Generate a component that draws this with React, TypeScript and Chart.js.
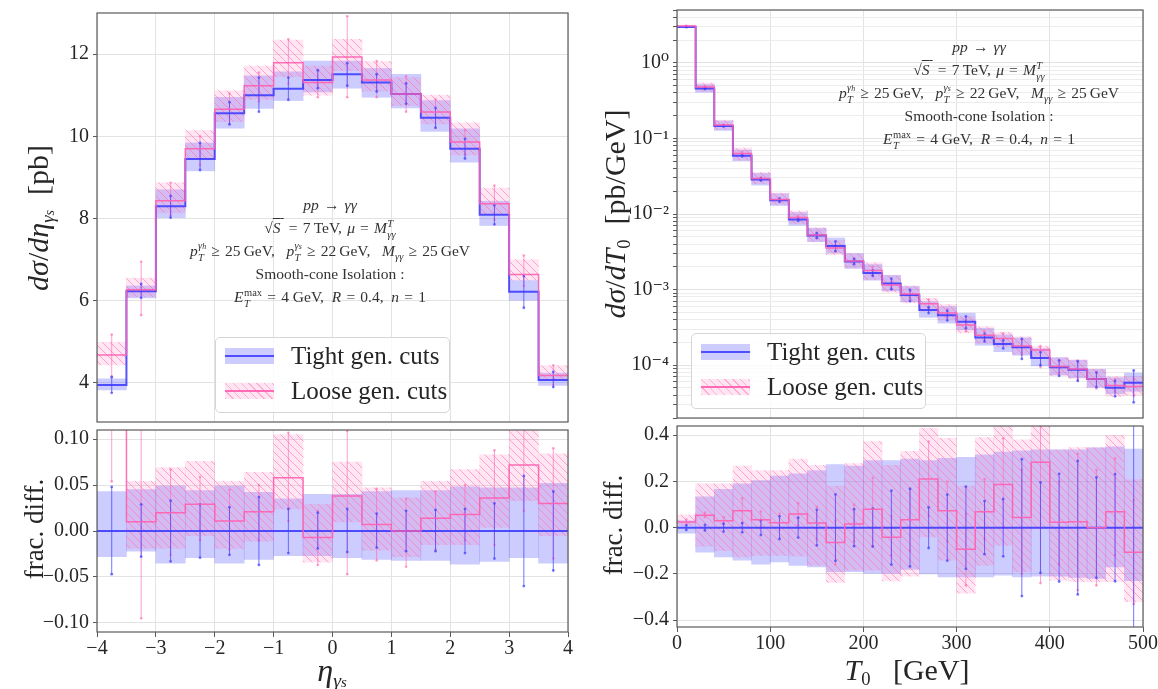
import React, { useEffect, useRef } from 'react';
import { Chart, registerables } from 'chart.js';

Chart.register(...registerables);

// ================= DATA =================
// Left: d sigma / d eta_gamma_s  (16 bins of 0.5 from -4 to 4)
const etaEdges = [-4, -3.5, -3, -2.5, -2, -1.5, -1, -0.5, 0, 0.5, 1, 1.5, 2, 2.5, 3, 3.5, 4];
const etaTight = [3.95, 6.23, 8.30, 9.45, 10.56, 11.00, 11.16, 11.37, 11.51, 11.31, 11.03, 10.45, 9.70, 8.09, 6.22, 4.07];
const etaTightLo = [3.83, 6.07, 8.02, 9.16, 10.20, 10.68, 10.87, 11.08, 11.17, 10.95, 10.69, 10.12, 9.37, 7.83, 6.01, 3.94];
const etaTightHi = [4.10, 6.36, 8.70, 9.84, 10.95, 11.47, 11.57, 11.83, 11.83, 11.65, 11.51, 10.87, 10.18, 8.42, 6.49, 4.24];
const etaTightErrLo = [3.76, 6.07, 8.02, 9.18, 10.29, 10.60, 10.89, 11.17, 11.23, 11.09, 10.79, 10.21, 9.46, 7.86, 5.83, 3.90];
const etaTightErrHi = [4.14, 6.41, 8.55, 9.84, 10.83, 11.43, 11.43, 11.61, 11.78, 11.51, 11.29, 10.69, 9.94, 8.32, 6.60, 4.27];
const etaLoose = [4.68, 6.27, 8.43, 9.70, 10.66, 11.23, 11.79, 11.31, 11.93, 11.37, 11.03, 10.59, 9.86, 8.36, 6.64, 4.18];
const etaLooseLo = [4.44, 6.10, 8.14, 9.45, 10.36, 10.90, 11.45, 11.00, 11.60, 11.10, 10.75, 10.30, 9.55, 8.10, 6.50, 4.08];
const etaLooseHi = [4.99, 6.55, 8.87, 10.14, 11.11, 11.71, 12.34, 11.71, 12.36, 11.82, 11.43, 11.00, 10.33, 8.74, 7.00, 4.42];
const etaLooseErrLo = [4.16, 5.65, 8.08, 9.30, 10.30, 10.85, 11.28, 10.95, 10.95, 10.95, 10.60, 10.20, 9.55, 7.97, 6.36, 3.95];
const etaLooseErrHi = [5.18, 6.95, 8.87, 10.00, 11.04, 11.55, 12.36, 11.60, 12.92, 11.83, 11.46, 10.90, 10.15, 8.80, 7.10, 4.43];

// Left ratio panel (frac. diff.)
const etaRatioTight = [0, 0, 0, 0, 0, 0, 0, 0, 0, 0, 0, 0, 0, 0, 0, 0];
const etaRatioTightLo = [-0.028, -0.022, -0.035, -0.029, -0.035, -0.031, -0.027, -0.027, -0.029, -0.031, -0.032, -0.032, -0.036, -0.033, -0.029, -0.035];
const etaRatioTightHi = [0.043, 0.045, 0.049, 0.044, 0.049, 0.042, 0.035, 0.040, 0.040, 0.043, 0.044, 0.044, 0.048, 0.047, 0.047, 0.052];
const etaRatioTightErrLo = [-0.047, -0.028, -0.033, -0.029, -0.026, -0.037, -0.024, -0.019, -0.023, -0.018, -0.022, -0.022, -0.024, -0.030, -0.060, -0.043];
const etaRatioTightErrHi = [0.048, 0.029, 0.033, 0.029, 0.026, 0.037, 0.024, 0.020, 0.024, 0.019, 0.022, 0.023, 0.024, 0.030, 0.060, 0.043];
const etaRatioLoose = [0.18, 0.010, 0.020, 0.029, 0.011, 0.021, 0.058, -0.007, 0.038, 0.007, 0.0, 0.014, 0.018, 0.036, 0.072, 0.030];
const etaRatioLooseLo = [0.12, -0.019, -0.019, -0.005, -0.019, -0.011, 0.024, -0.034, 0.010, -0.021, -0.028, -0.015, -0.015, 0.004, 0.033, -0.005];
const etaRatioLooseHi = [0.26, 0.054, 0.069, 0.076, 0.054, 0.064, 0.105, 0.029, 0.075, 0.047, 0.036, 0.054, 0.067, 0.083, 0.12, 0.084];
const etaRatioLooseErrLo = [0.054, -0.095, -0.026, -0.010, -0.020, -0.010, 0.011, -0.037, -0.047, -0.032, -0.039, -0.020, -0.010, -0.015, 0.022, -0.030];
const etaRatioLooseErrHi = [0.31, 0.14, 0.067, 0.059, 0.045, 0.050, 0.107, 0.022, 0.109, 0.046, 0.035, 0.043, 0.050, 0.088, 0.13, 0.090];

// Right: d sigma / d T0  (25 bins of 20 GeV from 0 to 500)
const tauEdges = [0, 20, 40, 60, 80, 100, 120, 140, 160, 180, 200, 220, 240, 260, 280, 300, 320, 340, 360, 380, 400, 420, 440, 460, 480, 500];
const tauTight = [2.99, 0.456, 0.146, 0.059, 0.0286, 0.0152, 0.00847, 0.00518, 0.00378, 0.00236, 0.00166, 0.00120, 0.000845, 0.000537, 0.000457, 0.000374, 0.000233, 0.000190, 0.000172, 0.000124, 0.0000940, 0.0000870, 0.0000655, 0.0000504, 0.0000586];

// Right ratio panel (frac. diff. w.r.t. tight central value)
const tauRatioTight = [0, 0, 0, 0, 0, 0, 0, 0, 0, 0, 0, 0, 0, 0, 0, 0, 0, 0, 0, 0, 0, 0, 0, 0, 0];
const tauRatioTightLo = [-0.024, -0.106, -0.127, -0.141, -0.158, -0.148, -0.163, -0.170, -0.190, -0.190, -0.198, -0.198, -0.181, -0.200, -0.213, -0.213, -0.213, -0.206, -0.213, -0.210, -0.210, -0.215, -0.220, -0.170, -0.230];
const tauRatioTightHi = [0.030, 0.133, 0.166, 0.190, 0.204, 0.223, 0.233, 0.247, 0.273, 0.266, 0.290, 0.290, 0.297, 0.290, 0.300, 0.304, 0.315, 0.327, 0.333, 0.337, 0.337, 0.337, 0.345, 0.350, 0.340];
const tauRatioTightErrLo = [-0.010, -0.012, -0.017, -0.020, -0.032, -0.049, -0.043, -0.077, -0.144, -0.080, -0.082, -0.160, -0.168, -0.088, -0.143, -0.178, -0.115, -0.124, -0.296, -0.196, -0.233, -0.289, -0.217, -0.232, -0.450];
const tauRatioTightErrHi = [0.010, 0.012, 0.017, 0.020, 0.032, 0.049, 0.043, 0.077, 0.144, 0.080, 0.082, 0.160, 0.168, 0.088, 0.143, 0.178, 0.115, 0.124, 0.296, 0.196, 0.233, 0.289, 0.217, 0.232, 0.450];
const tauRatioLoose = [0.025, 0.054, 0.030, 0.073, 0.034, 0.021, 0.059, 0.020, -0.064, 0.016, 0.080, -0.041, 0.034, 0.211, 0.073, -0.094, 0.069, 0.187, 0.044, 0.283, 0.023, 0.026, 0.000, 0.069, -0.106];
const tauRatioLooseLo = [0.010, -0.080, -0.100, -0.127, -0.120, -0.120, -0.123, -0.163, -0.237, -0.184, -0.184, -0.231, -0.210, -0.040, -0.141, -0.284, -0.163, -0.077, -0.190, -0.006, -0.227, -0.234, -0.234, -0.234, -0.320];
const tauRatioLooseHi = [0.055, 0.190, 0.190, 0.266, 0.247, 0.247, 0.297, 0.270, 0.180, 0.277, 0.373, 0.270, 0.330, 0.430, 0.387, 0.180, 0.390, 0.437, 0.380, 0.437, 0.337, 0.347, 0.347, 0.400, 0.208];
const tauRatioLooseErrLo = [0.015, 0.045, 0.015, 0.020, 0.000, -0.010, 0.010, -0.050, -0.160, -0.060, -0.080, -0.120, -0.100, 0.050, -0.060, -0.250, -0.050, 0.000, -0.200, -0.240, -0.160, -0.270, -0.250, -0.120, -0.330];
const tauRatioLooseErrHi = [0.035, 0.065, 0.045, 0.127, 0.070, 0.060, 0.106, 0.090, 0.030, 0.100, 0.216, 0.050, 0.170, 0.373, 0.200, 0.060, 0.210, 0.387, 0.250, 0.440, 0.200, 0.320, 0.250, 0.300, 0.120];

// Tick labels
const etaTicksX = [-4, -3, -2, -1, 0, 1, 2, 3, 4];
const etaTicksY = [4, 6, 8, 10, 12];
const etaRatioTicksY = [-0.1, -0.05, 0, 0.05, 0.1];
const tauTicksX = [0, 100, 200, 300, 400, 500];
const tauMajorTicks = [1e-4, 1e-3, 1e-2, 1e-1, 1];
const tauMajorLabels = ['10⁻⁴', '10⁻³', '10⁻²', '10⁻¹', '10⁰'];
const tauRatioTicksY = [-0.4, -0.2, 0, 0.2, 0.4];
const legendLabels = ['Tight gen. cuts', 'Loose gen. cuts'];

// ================= STYLE =================
const SERIF = "'Liberation Serif', 'DejaVu Serif', serif";
const TEXT = '#262626';
const GRID = '#e3e3e3';
const GRID_MINOR = '#ececec';
const FRAME = '#5a5a5a';
const BLUE_BAND = 'rgba(85,85,255,0.30)';
const BLUE_LINE = 'rgba(55,55,255,0.85)';
const BLUE_ERR = 'rgba(70,70,255,0.75)';
const PINK_BG = 'rgba(255,105,180,0.17)';
const PINK_HATCH = 'rgba(255,105,180,0.55)';
const PINK_LINE = 'rgba(255,95,175,0.9)';
const PINK_ERR = 'rgba(255,105,180,0.65)';
const TICK_FONT = { family: SERIF, size: 20 };

type Hist = { c: number[]; lo: number[]; hi: number[]; eLo: number[]; eHi: number[] };

function centersOf(edges: number[]) {
  return edges.slice(0, -1).map((e, i) => (e + edges[i + 1]) / 2);
}
function stepData(edges: number[], v: number[]) {
  return edges.map((e, i) => ({ x: e, y: v[Math.min(i, v.length - 1)] }));
}
function bandData(edges: number[], lo: number[], hi: number[]) {
  return centersOf(edges).map((x, i) => ({ x, y: [lo[i], hi[i]] }));
}
function errData(edges: number[], lo: number[], hi: number[]) {
  const out: any[] = [];
  centersOf(edges).forEach((x, i) => {
    out.push({ x, y: lo[i] }, { x, y: hi[i] }, { x, y: null });
  });
  return out;
}

function makeHatch(): any {
  const c = document.createElement('canvas');
  c.width = 8;
  c.height = 8;
  const g = c.getContext('2d');
  if (!g) return PINK_BG;
  g.fillStyle = PINK_BG;
  g.fillRect(0, 0, 8, 8);
  g.strokeStyle = PINK_HATCH;
  g.lineWidth = 1;
  g.beginPath();
  g.moveTo(-1, -1); g.lineTo(9, 9);
  g.moveTo(-1, 7); g.lineTo(1, 9);
  g.moveTo(7, -1); g.lineTo(9, 1);
  g.stroke();
  return g.createPattern(c, 'repeat') || PINK_BG;
}

function histSets(edges: number[], t: Hist, l: Hist, hatch: any) {
  return [
    { type: 'bar', data: bandData(edges, t.lo, t.hi), backgroundColor: BLUE_BAND, borderWidth: 0, grouped: false, barPercentage: 1, categoryPercentage: 1, order: 10 },
    { type: 'bar', data: bandData(edges, l.lo, l.hi), backgroundColor: hatch, borderWidth: 0, grouped: false, barPercentage: 1, categoryPercentage: 1, order: 9 },
    { type: 'line', data: errData(edges, l.eLo, l.eHi), borderColor: PINK_ERR, borderWidth: 1, pointRadius: 1.3, pointBorderWidth: 0, pointBackgroundColor: PINK_ERR, spanGaps: false, order: 8 },
    { type: 'line', data: errData(edges, t.eLo, t.eHi), borderColor: BLUE_ERR, borderWidth: 1, pointRadius: 1.4, pointBorderWidth: 0, pointBackgroundColor: BLUE_ERR, spanGaps: false, order: 7 },
    { type: 'line', data: stepData(edges, t.c), stepped: 'before', borderColor: BLUE_LINE, borderWidth: 2, pointRadius: 0, order: 6 },
    { type: 'line', data: stepData(edges, l.c), stepped: 'before', borderColor: PINK_LINE, borderWidth: 1.5, pointRadius: 0, order: 5 },
  ];
}

const framePlugin = {
  id: 'frame',
  afterDraw(chart: any) {
    const { ctx, chartArea: a } = chart;
    ctx.save();
    ctx.strokeStyle = FRAME;
    ctx.lineWidth = 1.2;
    ctx.strokeRect(a.left, a.top, a.right - a.left, a.bottom - a.top);
    ctx.restore();
  },
};

const minus = (s: string) => s.replace('-', '\u2212');

function xScale(min: number, max: number, ticks: number[], showLabels: boolean, height: number, fmt: (v: number) => string) {
  return {
    type: 'linear',
    min,
    max,
    offset: false,
    afterBuildTicks: (s: any) => { s.ticks = ticks.map((v) => ({ value: v })); },
    afterFit: (s: any) => { s.height = height; s.paddingLeft = 0; s.paddingRight = 0; },
    grid: { color: GRID, lineWidth: 1, offset: false, drawTicks: showLabels, tickLength: 5, tickColor: FRAME },
    border: { display: false },
    ticks: { display: showLabels, font: TICK_FONT, color: TEXT, padding: 0, maxRotation: 0, autoSkip: false, callback: (v: any) => fmt(Number(v)) },
  };
}

function yLinear(min: number, max: number, ticks: number[], fmt: (v: number) => string) {
  return {
    type: 'linear',
    min,
    max,
    afterBuildTicks: (s: any) => { s.ticks = ticks.map((v) => ({ value: v })); },
    afterFit: (s: any) => { s.width = 97; s.paddingTop = 0; s.paddingBottom = 0; },
    grid: { color: GRID, lineWidth: 1, drawTicks: true, tickLength: 4, tickColor: FRAME },
    border: { display: false },
    ticks: { font: TICK_FONT, color: TEXT, padding: 4, autoSkip: false, callback: (v: any) => fmt(Number(v)) },
  };
}

function yLog(min: number, max: number) {
  const grid: any[] = [];
  for (let k = -6; k <= 1; k++) {
    for (let m = 1; m <= 9; m++) {
      const v = m * Math.pow(10, k);
      if (v >= min && v <= max) {
        const mi = tauMajorTicks.findIndex((t) => Math.abs(t - v) / t < 1e-9);
        grid.push({ value: v, major: mi >= 0, lab: mi >= 0 ? tauMajorLabels[mi] : '' });
      }
    }
  }
  return {
    type: 'logarithmic',
    min,
    max,
    afterBuildTicks: (s: any) => { s.ticks = grid.map((g) => ({ ...g })); },
    afterFit: (s: any) => { s.width = 97; s.paddingTop = 0; s.paddingBottom = 0; },
    grid: {
      color: (ctx: any) => (ctx.tick && ctx.tick.major ? GRID : GRID_MINOR),
      lineWidth: 1,
      drawTicks: true,
      tickLength: 4,
      tickColor: FRAME,
    },
    border: { display: false },
    ticks: {
      font: TICK_FONT,
      color: TEXT,
      padding: 4,
      autoSkip: false,
      callback: (_v: any, i: number) => (grid[i] ? grid[i].lab : ''),
    },
  };
}

function baseConfig(datasets: any[], x: any, y: any, padding: any) {
  return {
    type: 'bar',
    data: { datasets },
    options: {
      responsive: false,
      animation: false,
      events: [],
      layout: { padding },
      plugins: { legend: { display: false }, tooltip: { enabled: false } },
      scales: { x, y },
    },
    plugins: [framePlugin],
  };
}

const fmtInt = (v: number) => minus(String(v));
const fmt2 = (v: number) => minus(v.toFixed(2));
const fmt1 = (v: number) => minus(v.toFixed(1));

function leftTopConfig() {
  const hatch = makeHatch();
  const ds = histSets(
    etaEdges,
    { c: etaTight, lo: etaTightLo, hi: etaTightHi, eLo: etaTightErrLo, eHi: etaTightErrHi },
    { c: etaLoose, lo: etaLooseLo, hi: etaLooseHi, eLo: etaLooseErrLo, eHi: etaLooseErrHi },
    hatch
  );
  return baseConfig(ds, xScale(-4, 4, etaTicksX, false, 0, fmtInt), yLinear(3.05, 13, etaTicksY, fmtInt), { top: 13, right: 12, bottom: 2, left: 0 });
}

function leftBottomConfig() {
  const hatch = makeHatch();
  const ds = histSets(
    etaEdges,
    { c: etaRatioTight, lo: etaRatioTightLo, hi: etaRatioTightHi, eLo: etaRatioTightErrLo, eHi: etaRatioTightErrHi },
    { c: etaRatioLoose, lo: etaRatioLooseLo, hi: etaRatioLooseHi, eLo: etaRatioLooseErrLo, eHi: etaRatioLooseErrHi },
    hatch
  );
  return baseConfig(ds, xScale(-4, 4, etaTicksX, true, 57, fmtInt), yLinear(-0.11, 0.11, etaRatioTicksY, fmt2), { top: 1, right: 12, bottom: 0, left: 0 });
}

function rightTopConfig() {
  const hatch = makeHatch();
  const scale = (r: number[]) => tauTight.map((v, i) => v * (1 + r[i]));
  const ds = histSets(
    tauEdges,
    { c: tauTight, lo: scale(tauRatioTightLo), hi: scale(tauRatioTightHi), eLo: scale(tauRatioTightErrLo), eHi: scale(tauRatioTightErrHi) },
    { c: scale(tauRatioLoose), lo: scale(tauRatioLooseLo), hi: scale(tauRatioLooseHi), eLo: scale(tauRatioLooseErrLo), eHi: scale(tauRatioLooseErrHi) },
    hatch
  );
  return baseConfig(ds, xScale(0, 500, tauTicksX, false, 0, fmtInt), yLog(2e-5, 5), { top: 10, right: 15, bottom: 3, left: 0 });
}

function rightBottomConfig() {
  const hatch = makeHatch();
  const ds = histSets(
    tauEdges,
    { c: tauRatioTight, lo: tauRatioTightLo, hi: tauRatioTightHi, eLo: tauRatioTightErrLo, eHi: tauRatioTightErrHi },
    { c: tauRatioLoose, lo: tauRatioLooseLo, hi: tauRatioLooseHi, eLo: tauRatioLooseErrLo, eHi: tauRatioLooseErrHi },
    hatch
  );
  return baseConfig(ds, xScale(0, 500, tauTicksX, true, 62, fmtInt), yLinear(-0.43, 0.44, tauRatioTicksY, fmt1), { top: 2, right: 15, bottom: 0, left: 0 });
}

function ChartBox({ left, top, width, height, build }: { left: number; top: number; width: number; height: number; build: () => any }) {
  const ref = useRef<HTMLCanvasElement>(null);
  useEffect(() => {
    if (!ref.current) return;
    const chart = new Chart(ref.current, build());
    return () => chart.destroy();
  }, []);
  return <canvas ref={ref} width={width} height={height} style={{ position: 'absolute', left, top, width, height }} />;
}

function SupSub({ sup, sub }: { sup: React.ReactNode; sub: React.ReactNode }) {
  return (
    <span style={{ display: 'inline-block', verticalAlign: '-0.45em', fontSize: '0.68em', lineHeight: '1.05em', textAlign: 'left', marginLeft: '0.04em' }}>
      <span style={{ display: 'block' }}>{sup}</span>
      <span style={{ display: 'block' }}>{sub}</span>
    </span>
  );
}

const SP = '\u2004';

function Annotation({ cx, top }: { cx: number; top: number }) {
  const line: React.CSSProperties = { height: 23, lineHeight: '23px', whiteSpace: 'nowrap' };
  return (
    <div style={{ position: 'absolute', left: cx - 200, top, width: 400, textAlign: 'center', fontFamily: SERIF, fontSize: 15.5, color: '#333' }}>
      <div style={line}><i>pp</i>{SP}→{SP}<i>γγ</i></div>
      <div style={line}>
        √<span style={{ textDecoration: 'overline' }}><i>S</i>&thinsp;</span>{SP}={SP}7{'\u2009'}TeV,{SP}<i>μ</i>{SP}={SP}<i>M</i>
        <SupSub sup={<i>T</i>} sub={<i>γγ</i>} />
      </div>
      <div style={line}>
        <i>p</i><SupSub sup={<i>γ<span style={{ fontSize: '0.75em' }}>h</span></i>} sub={<i>T</i>} />{SP}≥{SP}25{'\u2009'}GeV,&nbsp;&nbsp;{' '}
        <i>p</i><SupSub sup={<i>γ<span style={{ fontSize: '0.75em' }}>s</span></i>} sub={<i>T</i>} />{SP}≥{SP}22{'\u2009'}GeV,&nbsp;&nbsp;{' '}
        <i>M</i><span style={{ fontSize: '0.68em', verticalAlign: '-0.35em' }}><i>γγ</i></span>{SP}≥{SP}25{'\u2009'}GeV
      </div>
      <div style={line}>Smooth-cone Isolation :</div>
      <div style={line}>
        <i>E</i><SupSub sup="max" sub={<i>T</i>} />{SP}={SP}4 GeV,&nbsp; <i>R</i>{SP}={SP}0.4,&nbsp; <i>n</i>{SP}={SP}1
      </div>
    </div>
  );
}

function Legend({ left, top }: { left: number; top: number }) {
  const handle: React.CSSProperties = { position: 'absolute', left: 9, width: 49, height: 16 };
  const text: React.CSSProperties = { position: 'absolute', left: 75, height: 30, lineHeight: '30px', whiteSpace: 'nowrap' };
  const hatchCss = `repeating-linear-gradient(45deg, ${PINK_HATCH} 0px, ${PINK_HATCH} 1px, ${PINK_BG} 1px, ${PINK_BG} 5.5px)`;
  return (
    <div style={{ position: 'absolute', left, top, width: 235, height: 76, boxSizing: 'border-box', border: '1px solid #d6d6d6', borderRadius: 5, background: 'rgba(255,255,255,0.82)', fontFamily: SERIF, fontSize: 25, color: TEXT }}>
      <div style={{ ...handle, top: 10, background: BLUE_BAND }}>
        <div style={{ position: 'absolute', left: 0, right: 0, top: 7, height: 2, background: BLUE_LINE }} />
      </div>
      <div style={{ ...text, top: 3 }}>{legendLabels[0]}</div>
      <div style={{ ...handle, top: 45, background: hatchCss }}>
        <div style={{ position: 'absolute', left: 0, right: 0, top: 7, height: 1.5, background: PINK_LINE }} />
      </div>
      <div style={{ ...text, top: 38 }}>{legendLabels[1]}</div>
    </div>
  );
}

function Rot({ cx, cy, size, children }: { cx: number; cy: number; size: number; children: React.ReactNode }) {
  return (
    <div style={{ position: 'absolute', left: cx, top: cy, transform: 'translate(-50%,-50%) rotate(-90deg)', whiteSpace: 'nowrap', fontFamily: SERIF, fontSize: size, color: TEXT, lineHeight: 1 }}>
      {children}
    </div>
  );
}

function Flat({ cx, cy, size, children }: { cx: number; cy: number; size: number; children: React.ReactNode }) {
  return (
    <div style={{ position: 'absolute', left: cx, top: cy, transform: 'translate(-50%,-50%)', whiteSpace: 'nowrap', fontFamily: SERIF, fontSize: size, color: TEXT, lineHeight: 1 }}>
      {children}
    </div>
  );
}

export default function App() {
  const sub: React.CSSProperties = { fontSize: '0.62em', verticalAlign: '-0.3em' };
  return (
    <div style={{ position: 'fixed', left: 0, top: 0, width: 1158, height: 689, background: '#fff', overflow: 'hidden' }}>
      <ChartBox left={0} top={0} width={580} height={426} build={leftTopConfig} />
      <ChartBox left={0} top={426} width={580} height={263} build={leftBottomConfig} />
      <ChartBox left={580} top={0} width={578} height={422} build={rightTopConfig} />
      <ChartBox left={580} top={422} width={578} height={267} build={rightBottomConfig} />

      <Annotation cx={330} top={193} />
      <Annotation cx={979} top={35} />
      <Legend left={215} top={337} />
      <Legend left={691} top={333} />

      <Rot cx={40} cy={218} size={30}>
        <i>dσ</i>/<i>dη</i><span style={sub}><i>γ<span style={{ fontSize: '0.75em' }}>s</span></i></span>&nbsp;&nbsp;[pb]
      </Rot>
      <Rot cx={34} cy={529} size={27}>frac. diff.</Rot>
      <Rot cx={617} cy={214} size={30}>
        <i>dσ</i>/<i>dT</i><span style={sub}>0</span>&nbsp;&nbsp;[pb/GeV]
      </Rot>
      <Rot cx={613} cy={525} size={27}>frac. diff.</Rot>

      <Flat cx={332} cy={672} size={32}>
        <i>η</i><span style={sub}><i>γ<span style={{ fontSize: '0.75em' }}>s</span></i></span>
      </Flat>
      <Flat cx={907} cy={672} size={30}>
        <i>T</i><span style={sub}>0</span>&nbsp;&nbsp;&nbsp;[GeV]
      </Flat>
    </div>
  );
}
